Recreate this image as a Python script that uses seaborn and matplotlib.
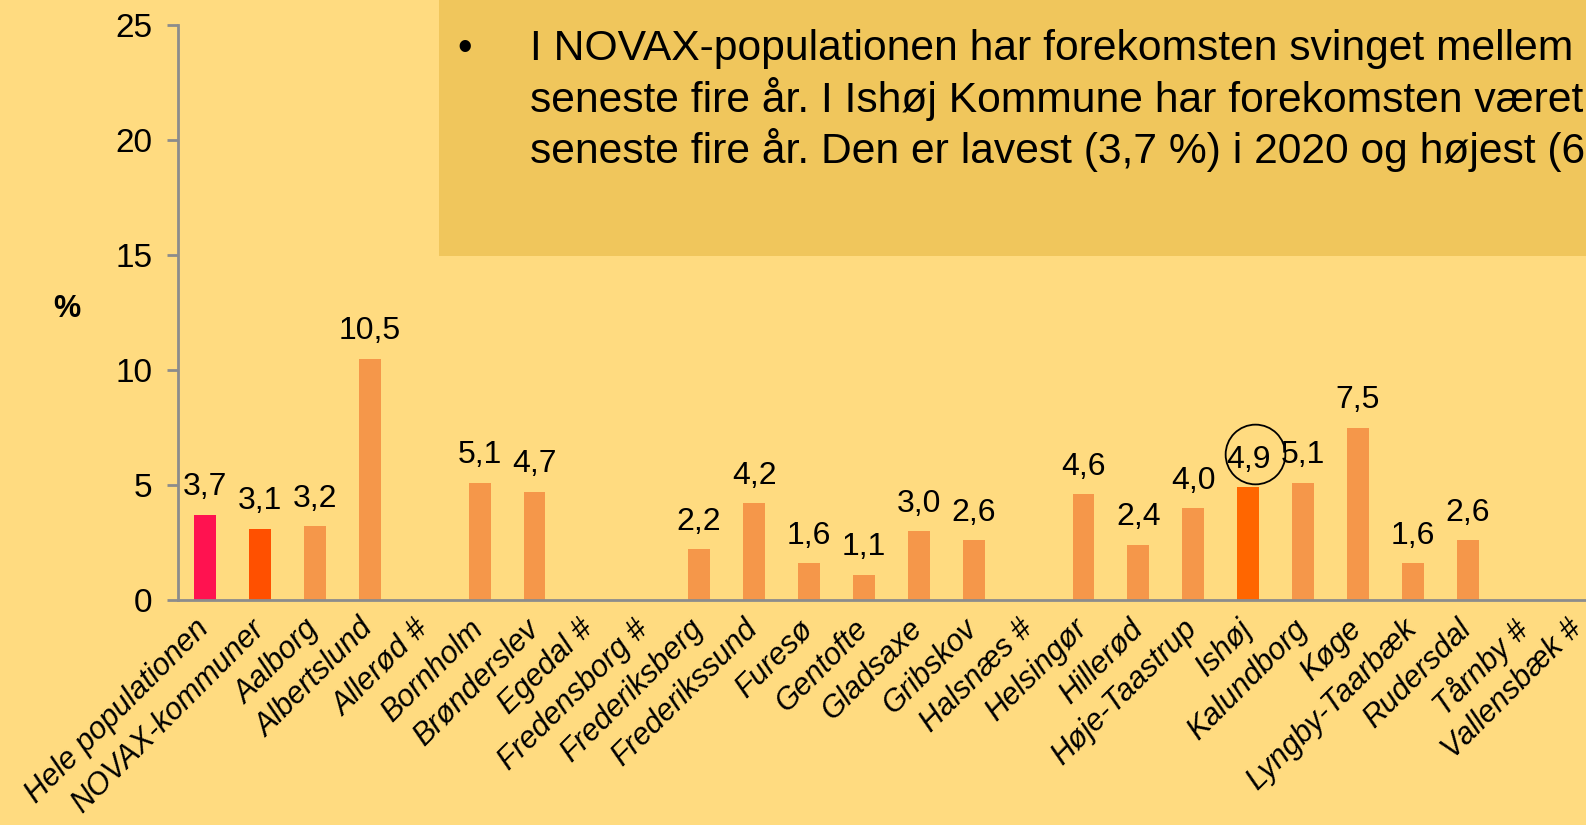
import numpy as np
import matplotlib.pyplot as plt
import matplotlib.transforms as mtransforms
import seaborn as sns
from matplotlib.patches import Rectangle

# ==========================================================
# Data
# ==========================================================

categories = [
    "Hele populationen", "NOVAX-kommuner", "Aalborg", "Albertslund", "Allerød #",
    "Bornholm", "Brønderslev", "Egedal #", "Fredensborg #", "Frederiksberg",
    "Frederikssund", "Furesø", "Gentofte", "Gladsaxe", "Gribskov", "Halsnæs #",
    "Helsingør", "Hillerød", "Høje-Taastrup", "Ishøj", "Kalundborg", "Køge",
    "Lyngby-Taarbæk", "Rudersdal", "Tårnby #", "Vallensbæk #",
]
values = [
    3.7, 3.1, 3.2, 10.5, np.nan,
    5.1, 4.7, np.nan, np.nan, 2.2,
    4.2, 1.6, 1.1, 3.0, 2.6, np.nan,
    4.6, 2.4, 4.0, 4.9, 5.1, 7.5,
    1.6, 2.6, np.nan, np.nan,
]
highlight = "Ishøj"

box_lines = [
    "I NOVAX-populationen har forekomsten svinget mellem",
    "seneste fire år. I Ishøj Kommune har forekomsten været",
    "seneste fire år. Den er lavest (3,7 %) i 2020 og højest (6",
]

# ==========================================================
# Colours / style
# ==========================================================

bg = "#FFDB80"
box_color = "#F0C65C"
grey = "#8C8C8C"
colors = {c: "#F5974A" for c in categories}
colors["Hele populationen"] = "#FF1250"
colors["NOVAX-kommuner"] = "#FF5000"
colors[highlight] = "#FF6600"

sns.set_style("white")
plt.rcParams["font.family"] = ["Liberation Sans", "DejaVu Sans"]
plt.rcParams["text.color"] = "black"
plt.rcParams["xtick.labelcolor"] = "black"
plt.rcParams["ytick.labelcolor"] = "black"

fig = plt.figure(figsize=(15.86, 8.25), dpi=100)
fig.patch.set_facecolor(bg)
ax = fig.add_axes([0.112, 0.2727, 0.90, 0.697])
ax.set_facecolor(bg)

# ==========================================================
# Bars
# ==========================================================

sns.barplot(
    x=categories,
    y=values,
    hue=categories,
    palette=colors,
    legend=False,
    width=0.4,
    saturation=1,
    linewidth=0,
    edgecolor="none",
    ax=ax,
)

ax.set_ylim(0, 25)
ax.set_xlim(-0.5, len(categories) - 0.5)
ax.set_yticks([0, 5, 10, 15, 20, 25])

# value labels
for i, v in enumerate(values):
    if np.isnan(v):
        continue
    ax.annotate(f"{v:.1f}".replace(".", ","), (i, v), xytext=(0, 9),
                textcoords="offset points", ha="center", va="bottom",
                fontsize=23, color="black")

# circle round the Ishøj label
hi = categories.index(highlight)
ring = ax.plot(hi, values[hi], marker="o", markersize=43, markerfacecolor="none",
               markeredgecolor="black", markeredgewidth=1.3, linestyle="none",
               clip_on=False)[0]
ring.set_transform(ax.transData + mtransforms.ScaledTranslation(5 / 72, 24 / 72, fig.dpi_scale_trans))

# x ticks: labels at bar centres, marks at boundaries
ax.set_xticks(range(len(categories)))
ax.set_xticklabels(categories, rotation=45, ha="right", va="top",
                   rotation_mode="anchor", fontsize=22, style="italic")
ax.tick_params(axis="x", which="major", length=0, pad=10)
ax.set_xticks(np.arange(len(categories) + 1) - 0.5, minor=True)
ax.tick_params(axis="x", which="minor", length=8, width=2, color=grey, direction="out")
for lab in ax.get_xticklabels():
    lab.set_transform(lab.get_transform() + mtransforms.ScaledTranslation(-8 / 72, 0, fig.dpi_scale_trans))

ax.tick_params(axis="y", length=8, width=2, color=grey, direction="out",
               labelsize=24, pad=10, left=True)

sns.despine(ax=ax)
for s in ["left", "bottom"]:
    ax.spines[s].set_color(grey)
    ax.spines[s].set_linewidth(2)

ax.set_ylabel("")
fig.text(0.042, 0.625, "%", fontsize=22, fontweight="bold", ha="center", va="center")

# ==========================================================
# Text box
# ==========================================================

fig.patches.append(Rectangle((0.277, 0.69), 0.75, 0.32, transform=fig.transFigure,
                             facecolor=box_color, edgecolor="none", zorder=5))
fig.text(0.293, 0.941, "•", fontsize=30, ha="center", va="center", zorder=6)
for k, line in enumerate(box_lines):
    fig.text(0.334, 0.941 - k * 0.0615, line, fontsize=30.7, ha="left",
             va="center", zorder=6)

fig.savefig("out.png", dpi=100, facecolor=bg)
